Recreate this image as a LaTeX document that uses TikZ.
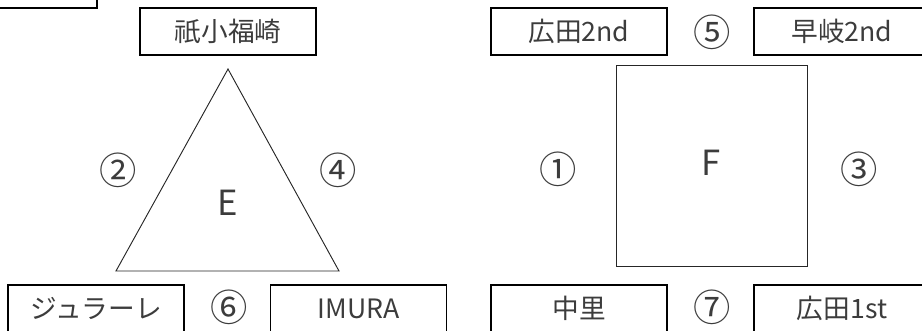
\documentclass[tikz,border=0pt]{standalone}
\usepackage{fontspec}
\setmainfont{Noto Sans CJK JP}
\definecolor{inkgray}{RGB}{60,60,60}
\tikzset{
  team/.style={draw=black, line width=1.4pt, minimum width=132pt, minimum height=35pt, inner sep=0pt, text=inkgray},
  num/.style={text=inkgray, inner sep=0pt},
  circ/.style={num, font=\fontsize{28}{30}\selectfont},
  blocklabel/.style={num, font=\fontsize{26}{30}\selectfont},
  block/.style={draw=black!85, line width=0.7pt}
}

\begin{document}
\begin{tikzpicture}[x=0.75pt,y=-0.75pt,font=\fontsize{20}{24}\selectfont]
    \clip (0,0) rectangle (922,330);
    % Block E
    \node[team] (corner) at (9,-15.5) {};
    \node[team] (sogi) at (228,31.5) {祇小福崎};
    \draw[block] (228,69) -- (339,271) -- (116,271) -- cycle;
    \node[blocklabel] (e) at (228,203) {E};
    \node[circ] (n2) at (118,170) {②};
    \node[circ] (n4) at (338,170) {④};
    \node[team] (jurare) at (96,308.5) {ジュラーレ};
    \node[circ] (n6) at (229,307) {⑥};
    \node[team] (imura) at (358.5,308.5) {IMURA};
    
    % Block F
    \node[team] (hiro2) at (579,31.5) {広田2nd};
    \node[circ] (n5) at (712,32) {⑤};
    \node[team] (haiki2) at (842,31.5) {早岐2nd};
    \draw[block] (616,65) rectangle (807,266);
    \node[blocklabel] (f) at (711,163) {F};
    \node[circ] (n1) at (558,169) {①};
    \node[circ] (n3) at (859,169) {③};
    \node[team] (nakazato) at (579,308.5) {中里};
    \node[circ] (n7) at (712,307) {⑦};
    \node[team] (hiro1) at (842,308.5) {広田1st};
\end{tikzpicture}
\end{document}
